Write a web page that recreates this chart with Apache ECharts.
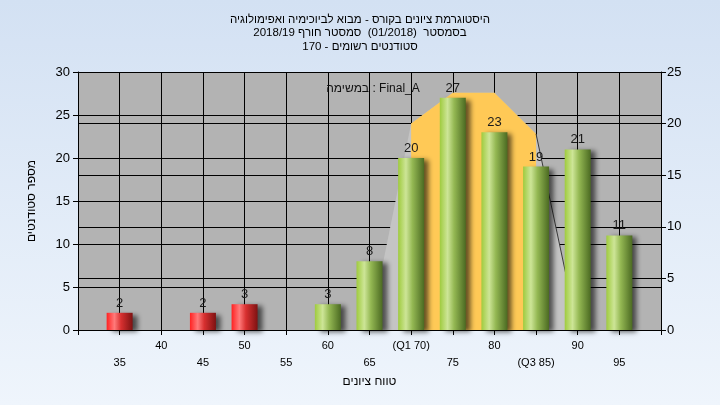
<!DOCTYPE html>
<html>
<head>
<meta charset="utf-8">
<script src="https://cdn.jsdelivr.net/npm/echarts@6/dist/echarts.min.js"></script>
<style>
html,body{margin:0;padding:0;}
#chart{width:720px;height:405px;}
</style>
</head>
<body>
<div id="chart"></div>
<script>
// ---- data ----
const titleLines = [
  'היסטוגרמת ציונים בקורס - מבוא לביוכימיה ואפימולוגיה',
  'בסמסטר  (01/2018)  סמסטר חורף 2018/19',
  'סטודנטים רשומים - 170'
];
const taskLabel = 'במשימה : Final_A';
const xAxisName = 'טווח ציונים';
const yAxisName = 'מספר סטודנטים';

const grades = [35, 45, 50, 60, 65, 70, 75, 80, 85, 90, 95];
const counts = [2, 2, 3, 3, 8, 20, 27, 23, 19, 21, 11];
const failBelow = 55;

const xTickValues = [35, 40, 45, 50, 55, 60, 65, 70, 75, 80, 85, 90, 95];
const xTickLabels = ['35', '40', '45', '50', '55', '60', '65', '(Q1 70)', '75', '80', '(Q3 85)', '90', '95'];

const iqrGrades = [70, 75, 80, 85];
const iqrValues = [20, 23, 23, 19];
const tailGrades = [65, 70, 75, 80, 85, 90];
const tailValues = [0, 20, 23, 23, 19, 0];
const edgeGrades = [85, 90];
const edgeValues = [19, 0];

// ---- styles ----
const FONT = '"Liberation Sans", "DejaVu Sans", sans-serif';
function grad(stops) {
  return new echarts.graphic.LinearGradient(0, 0, 1, 0, stops.map(s => ({offset: s[0], color: s[1]})));
}
const redFill = grad([[0, '#ff2222'], [0.3, '#ff7a7a'], [0.55, '#d83030'], [1, '#7e1212']]);
const greenFill = grad([[0, '#9fcb3e'], [0.3, '#cde597'], [0.55, '#94b853'], [1, '#4b6a22']]);

const barData = grades.map((g, i) => ({
  value: [g, counts[i]],
  itemStyle: {color: g < failBelow ? redFill : greenFill}
}));

const chart = echarts.init(document.getElementById('chart'), null, {renderer: 'canvas'});
chart.setOption({
  animation: false,
  backgroundColor: new echarts.graphic.LinearGradient(0, 0, 0, 1, [
    {offset: 0, color: '#d3e1f3'}, {offset: 1, color: '#eff5fc'}
  ]),
  title: [{
    text: titleLines.join('\n'),
    left: 'center',
    top: 8,
    textStyle: {fontFamily: FONT, fontSize: 11.5, fontWeight: 'normal', color: '#000', lineHeight: 13.5}
  }, {
    text: taskLabel,
    left: 368,
    textAlign: 'center',
    top: 78,
    textStyle: {fontFamily: FONT, fontSize: 12, fontWeight: 'normal', color: '#111'}
  }],
  grid: {
    left: 78, top: 72, width: 583, height: 258,
    show: true, backgroundColor: '#b3b3b3', borderWidth: 0
  },
  xAxis: {
    type: 'value', min: 30, max: 100, interval: 5,
    name: xAxisName, nameLocation: 'middle', nameGap: 44,
    nameTextStyle: {fontFamily: FONT, fontSize: 12, color: '#000'},
    axisLine: {lineStyle: {color: '#000', width: 1}},
    axisTick: {show: true, length: 5, lineStyle: {color: '#000'}},
    splitLine: {show: true, lineStyle: {color: '#000', width: 1}},
    axisLabel: {
      fontFamily: FONT, fontSize: 11, color: '#000', lineHeight: 17, margin: 7,
      showMinLabel: true, showMaxLabel: true,
      formatter: function (v) {
        const i = xTickValues.indexOf(v);
        if (i < 0) return '';
        return (v % 10 === 0) ? xTickLabels[i] : '\n' + xTickLabels[i];
      }
    }
  },
  yAxis: [{
    type: 'value', min: 0, max: 30, interval: 5, position: 'left',
    name: yAxisName, nameLocation: 'middle', nameGap: 40,
    nameTextStyle: {fontFamily: FONT, fontSize: 12, color: '#000'},
    axisLine: {show: true, lineStyle: {color: '#000'}},
    axisTick: {show: true, length: 5, lineStyle: {color: '#000'}},
    splitLine: {show: true, lineStyle: {color: '#000', width: 1}},
    axisLabel: {fontFamily: FONT, fontSize: 13, color: '#000', margin: 8}
  }, {
    type: 'value', min: 0, max: 25, interval: 5, position: 'right',
    axisLine: {show: true, lineStyle: {color: '#000'}},
    axisTick: {show: true, length: 5, lineStyle: {color: '#000'}},
    splitLine: {show: true, lineStyle: {color: '#000', width: 1}},
    axisLabel: {fontFamily: FONT, fontSize: 13, color: '#000', margin: 6}
  }],
  series: [{
    type: 'line', yAxisIndex: 1, z: 1,
    data: tailGrades.map((g, i) => [g, tailValues[i]]),
    symbol: 'none', lineStyle: {width: 0},
    areaStyle: {color: '#c4c4c4', opacity: 1}
  }, {
    type: 'line', yAxisIndex: 1, z: 2,
    data: edgeGrades.map((g, i) => [g, edgeValues[i]]),
    symbol: 'none', lineStyle: {width: 1, color: '#3a3a3a'}
  }, {
    type: 'line', yAxisIndex: 1, z: 2,
    data: iqrGrades.map((g, i) => [g, iqrValues[i]]),
    symbol: 'none', lineStyle: {width: 0},
    areaStyle: {color: '#ffc956', opacity: 1}
  }, {
    type: 'bar', yAxisIndex: 0, z: 3,
    data: barData,
    barWidth: 26,
    itemStyle: {shadowBlur: 5, shadowColor: 'rgba(0,0,0,0.6)', shadowOffsetX: 5, shadowOffsetY: 2},
    label: {show: true, position: 'top', distance: 3, fontFamily: FONT, fontSize: 13, color: '#1a1a1a',
      formatter: p => p.value[1]}
  }]
});
</script>
</body>
</html>
